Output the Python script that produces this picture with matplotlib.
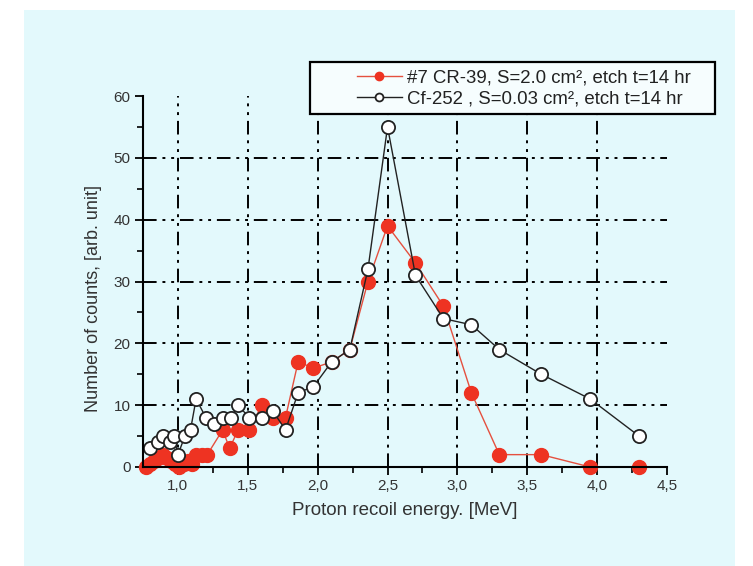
import matplotlib
matplotlib.use("Agg")
import matplotlib.pyplot as plt
from matplotlib.patches import Rectangle
from matplotlib.ticker import MultipleLocator, FuncFormatter

plt.rcParams['font.family'] = ['Liberation Sans', 'DejaVu Sans']

# Data
cr39_x = [0.77, 0.80, 0.83, 0.86, 0.89, 0.92, 0.95, 0.98, 1.01, 1.04, 1.07, 1.10,
          1.13, 1.17, 1.21, 1.32, 1.37, 1.43, 1.51, 1.60, 1.68, 1.77, 1.86, 1.97,
          2.10, 2.23, 2.36, 2.50, 2.70, 2.90, 3.10, 3.30, 3.60, 3.95, 4.30]
cr39_y = [0, 0.5, 1, 1.5, 2, 1.5, 1, 0.5, 0, 0.5, 1, 0.5,
          2, 2, 2, 6, 3, 6, 6, 10, 8, 8, 17, 16,
          17, 19, 30, 39, 33, 26, 12, 2, 2, 0, 0]

cf_x = [0.80, 0.855, 0.89, 0.94, 0.97, 1.00, 1.05, 1.09, 1.13, 1.20, 1.26, 1.32,
        1.38, 1.43, 1.51, 1.60, 1.68, 1.77, 1.86, 1.97, 2.10, 2.23, 2.36, 2.50,
        2.70, 2.90, 3.10, 3.30, 3.60, 3.95, 4.30]
cf_y = [3, 4, 5, 4, 5, 2, 5, 6, 11, 8, 7, 8,
        8, 10, 8, 8, 9, 6, 12, 13, 17, 19, 32, 55,
        31, 24, 23, 19, 15, 11, 5]

label_cr39 = "#7 CR-39, S=2.0 cm\u00b2, etch t=14 hr"
label_cf = "Cf-252 , S=0.03 cm\u00b2, etch t=14 hr"
xlabel = "Proton recoil energy. [MeV]"
ylabel = "Number of counts, [arb. unit]"

W, H = 753, 566
bg = '#e3f9fc'
fig = plt.figure(figsize=(W / 100, H / 100), dpi=100, facecolor='white')
fig.patches.append(Rectangle((24 / W, 0), (735 - 24) / W, 1 - 10 / H,
                             transform=fig.transFigure, facecolor=bg,
                             edgecolor='none', zorder=-10))

ax = fig.add_axes([143 / W, 1 - 467 / H, (667 - 143) / W, (467 - 96) / H])
ax.patch.set_alpha(0)

ax.set_xlim(0.75, 4.5)
ax.set_ylim(0, 60)

grid_ls = (0, (7, 3, 1.5, 3, 1.5, 3))
for gx in [1.0, 1.5, 2.0, 2.5, 3.0, 3.5, 4.0]:
    ax.plot([gx, gx], [0, 60], color='black', lw=1.4, ls=grid_ls, zorder=1, clip_on=False)
for gy in [10, 20, 30, 40, 50]:
    ax.plot([0.75, 4.5], [gy, gy], color='black', lw=1.4, ls=grid_ls, zorder=1)

ax.plot(cr39_x, cr39_y, color='#e5503f', lw=1.0, marker='o', markersize=10,
        markerfacecolor='#ee3322', markeredgecolor='#ee3322', zorder=3,
        label=label_cr39, clip_on=False)
ax.plot(cf_x, cf_y, color='#222222', lw=1.0, marker='o', markersize=9.5,
        markerfacecolor='white', markeredgecolor='#222222', markeredgewidth=1.3,
        zorder=4, label=label_cf, clip_on=False)

for s in ['top', 'right']:
    ax.spines[s].set_visible(False)
for s in ['left', 'bottom']:
    ax.spines[s].set_linewidth(1.5)
    ax.spines[s].set_zorder(5)

ax.xaxis.set_major_locator(MultipleLocator(0.5))
ax.xaxis.set_minor_locator(MultipleLocator(0.25))
ax.yaxis.set_major_locator(MultipleLocator(10))
ax.yaxis.set_minor_locator(MultipleLocator(5))
ax.xaxis.set_major_formatter(FuncFormatter(lambda v, p: f"{v:.1f}".replace('.', ',')))
ax.yaxis.set_major_formatter(FuncFormatter(lambda v, p: f"{v:.0f}"))
ax.tick_params(which='major', direction='out', length=6, width=1.3, labelsize=11,
               labelcolor='#333333', pad=3)
ax.tick_params(which='minor', direction='out', length=4, width=1.2)

ax.set_xlabel(xlabel, fontsize=13.5, color='#333333', labelpad=6)
ax.set_ylabel(ylabel, fontsize=13, color='#333333', labelpad=10)
ax.yaxis.set_label_coords(-0.078, 0.455)

# legend frame drawn as a figure rectangle
fig.patches.append(Rectangle((310 / W, 1 - 114 / H), (715 - 310) / W, (114 - 62) / H,
                             transform=fig.transFigure, facecolor='#f6fdfe',
                             edgecolor='black', linewidth=1.6, zorder=5))
leg = fig.legend(loc='center right', bbox_to_anchor=(691 / W, 1 - 88.5 / H),
                 fontsize=13.4, frameon=False, handlelength=2.4,
                 labelspacing=0.2, handletextpad=0.3, borderaxespad=0,
                 borderpad=0, markerscale=0.6)
leg.set_zorder(6)
for t in leg.get_texts():
    t.set_color('#222222')

fig.savefig('out.png', dpi=100, facecolor='white')
